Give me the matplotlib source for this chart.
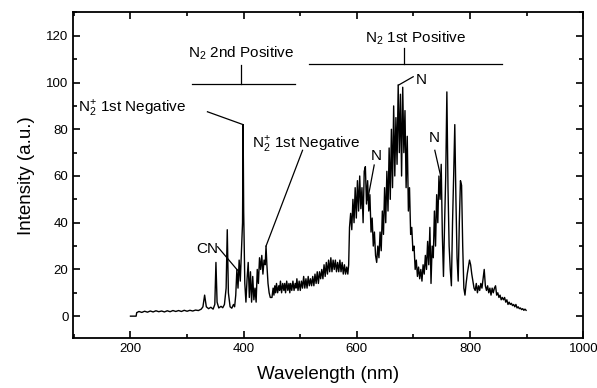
import numpy as np
import matplotlib
matplotlib.use('Agg')
import matplotlib.pyplot as plt
from matplotlib.ticker import MultipleLocator

plt.rcParams['font.family'] = ['Liberation Sans', 'DejaVu Sans']
plt.rcParams['mathtext.fontset'] = 'custom'
plt.rcParams['mathtext.rm'] = 'Liberation Sans'

# emission spectrum, (wavelength nm, intensity a.u.)
uv_part = [(200, 0), (210, 0), (211, 1.5), (215, 2.0), (220, 1.6), (225, 2.1), (230, 1.7),
           (235, 2.2), (240, 1.8), (245, 2.3), (250, 1.9), (255, 2.2), (260, 1.8), (265, 2.3),
           (270, 1.9), (275, 2.4), (280, 2.0), (285, 2.4), (290, 2.0), (295, 2.5), (300, 2.1),
           (305, 2.5), (310, 2.2), (315, 2.6), (320, 2.4), (325, 3.0), (328, 4.0), (331, 9),
           (334, 4), (338, 3.2), (342, 3.8), (346, 3.0), (349, 5), (351, 23), (353, 6),
           (356, 3.5), (360, 4.2), (363, 3.6), (366, 5), (369, 12), (371, 37), (373, 10),
           (376, 4), (379, 3.4), (382, 5), (384, 4), (386, 9), (388, 20), (390, 12), (392, 24),
           (394, 15), (396, 28), (398, 40), (399, 82), (400, 45), (402, 14), (404, 6), (406, 16),
           (408, 23), (410, 8), (412, 19), (414, 6), (416, 17), (418, 7), (420, 12), (422, 6),
           (424, 20), (426, 14), (428, 25), (430, 20), (432, 26), (434, 18), (436, 24),
           (438, 22), (439.5, 30), (441, 22), (443, 14), (445, 10), (447, 8)]

plateau_part = [(450, 8), (452, 12), (453.5, 9), (455, 13), (456.5, 10), (458, 14), (460, 10),
                (462, 13), (463.5, 11), (465, 15), (467, 10), (469, 14), (471, 11), (472.5, 14),
                (474, 10), (476, 15), (478, 11), (480, 14), (481.5, 10), (483, 14), (485, 11),
                (487, 15), (489, 11), (491, 14), (492.5, 12), (494, 16), (496, 11), (498, 15),
                (500, 11), (502, 15), (504, 12), (506, 17), (508, 12), (510, 16), (512, 12),
                (514, 17), (516, 13), (518, 16), (520, 13), (522, 17), (524, 13), (526, 18),
                (528, 14), (530, 19), (532, 14), (534, 19), (536, 16), (538, 20), (540, 16),
                (542, 22), (544, 17), (546, 23), (548, 18), (550, 24), (552, 19), (554, 25),
                (556, 19), (558, 24), (560, 20), (562, 24), (564, 19), (566, 23), (568, 19),
                (570, 24), (572, 19), (574, 23), (576, 18), (578, 22), (580, 18), (582, 21),
                (584, 18), (585.5, 22)]

red_part = [(587, 38), (589, 44), (591, 37), (593, 50), (595, 40), (597, 55), (599, 42),
            (601, 58), (603, 45), (605, 60), (607, 46), (609, 55), (611, 40), (613, 62),
            (615, 64), (617, 48), (619, 58), (621, 45), (623, 52), (625, 36), (627, 42),
            (629, 30), (631, 36), (633, 26), (635, 23), (637, 30), (639, 25), (641, 36),
            (643, 28), (645, 45), (647, 35), (649, 55), (651, 40), (653, 62), (655, 45),
            (657, 72), (659, 50), (661, 80), (663, 55), (665, 90), (667, 60), (669, 85),
            (671, 65), (673, 99), (675, 70), (677, 95), (679, 60), (681, 98), (683, 70),
            (685, 88), (687, 55), (689, 77), (691, 45), (693, 55), (695, 35), (697, 38),
            (699, 28), (701, 30), (703, 20), (705, 24), (707, 17), (709, 21), (711, 16),
            (713, 20), (715, 15), (717, 22), (719, 18), (721, 26), (723, 20), (725, 32),
            (727, 22), (729, 38), (731, 14), (733, 30), (735, 25), (737, 45), (739, 30),
            (741, 52), (743, 40), (745, 60), (747, 50), (749, 65), (751, 35), (753, 17),
            (755, 40), (757, 60), (759, 96), (761, 55), (763, 30), (765, 20), (767, 13),
            (769, 40), (771, 60), (773, 82), (775, 50), (777, 25), (779, 15), (781, 40),
            (783, 58), (785, 56), (787, 30), (789, 12), (791, 9), (793, 14), (795, 18),
            (797, 21), (799, 24), (801, 22), (803, 18), (805, 15), (807, 12), (809, 11),
            (811, 14), (813, 10), (815, 13), (817, 11), (819, 14), (821, 12), (823, 16),
            (825, 20), (827, 13), (829, 11), (831, 13), (833, 10), (835, 12), (837, 9),
            (839, 12), (841, 10), (843, 12), (845, 13), (847, 9), (849, 10), (851, 8),
            (853, 9), (855, 7), (857, 8), (859, 7), (861, 8), (863, 6), (865, 7), (867, 5),
            (869, 6), (871, 5), (873, 5.5), (875, 4.5), (877, 5), (879, 4), (881, 5),
            (883, 3.5), (885, 4), (887, 3.2), (889, 3.5), (891, 2.8), (893, 3.2), (895, 2.5),
            (897, 3), (899, 2.5)]

spectrum = uv_part + plateau_part + red_part
wavelength = np.array([w for w, _ in spectrum])
intensity = np.array([v for _, v in spectrum])

fig = plt.figure(figsize=(5.97, 3.88), dpi=100)
ax = fig.add_axes([0.1228, 0.128, 0.8542, 0.841])

ax.plot(wavelength, intensity, color='black', lw=1.0)

ax.set_xlim(99, 1000)
ax.set_ylim(-9.5, 130.2)
ax.xaxis.set_major_locator(MultipleLocator(200))
ax.xaxis.set_minor_locator(MultipleLocator(100))
ax.yaxis.set_major_locator(MultipleLocator(20))
ax.yaxis.set_minor_locator(MultipleLocator(10))
ax.tick_params(which='both', direction='in', top=True, right=True, labelsize=9.5, width=1.2)
ax.tick_params(which='major', length=5)
ax.tick_params(which='minor', length=3)
for s in ax.spines.values():
    s.set_linewidth(1.3)

ax.set_xlabel('Wavelength (nm)', fontsize=13.5, labelpad=8)
ax.set_ylabel('Intensity (a.u.)', fontsize=13.5, labelpad=8)

fs = 11
n2 = r'N$_\mathregular{2}$'
n2p = r'N$_\mathregular{2}^{\mathregular{+}}$'

# band markers
ax.plot([309, 490], [99.5, 99.5], color='black', lw=0.9)
ax.plot([396, 396], [99.5, 107.5], color='black', lw=0.9)
ax.text(396, 112.5, n2 + ' 2nd Positive', fontsize=fs, ha='center', va='center')
ax.plot([515, 856], [108, 108], color='black', lw=0.9)
ax.plot([683, 683], [108, 115], color='black', lw=0.9)
ax.text(704, 119, n2 + ' 1st Positive', fontsize=fs, ha='center', va='center')

# line labels
ax.text(108, 89, n2p + ' 1st Negative', fontsize=fs, ha='left', va='center')
ax.plot([336, 399], [87.5, 82], color='black', lw=0.9)
ax.text(415, 73.4, n2p + ' 1st Negative', fontsize=fs, ha='left', va='center')
ax.plot([504, 439.5], [71, 30], color='black', lw=0.9)
ax.text(316, 28.7, 'CN', fontsize=fs, ha='left', va='center')
ax.plot([354, 389], [29.7, 19.7], color='black', lw=0.9)
ax.text(633.6, 68.5, 'N', fontsize=fs, ha='center', va='center')
ax.plot([630.6, 619], [64.7, 49.7], color='black', lw=0.9)
ax.text(713.6, 101, 'N', fontsize=fs, ha='center', va='center')
ax.plot([699.5, 673.5], [102.5, 98.9], color='black', lw=0.9)
ax.text(736.5, 76.4, 'N', fontsize=fs, ha='center', va='center')
ax.plot([737.7, 748.3], [71, 59.7], color='black', lw=0.9)

fig.savefig('out.png', dpi=100)
